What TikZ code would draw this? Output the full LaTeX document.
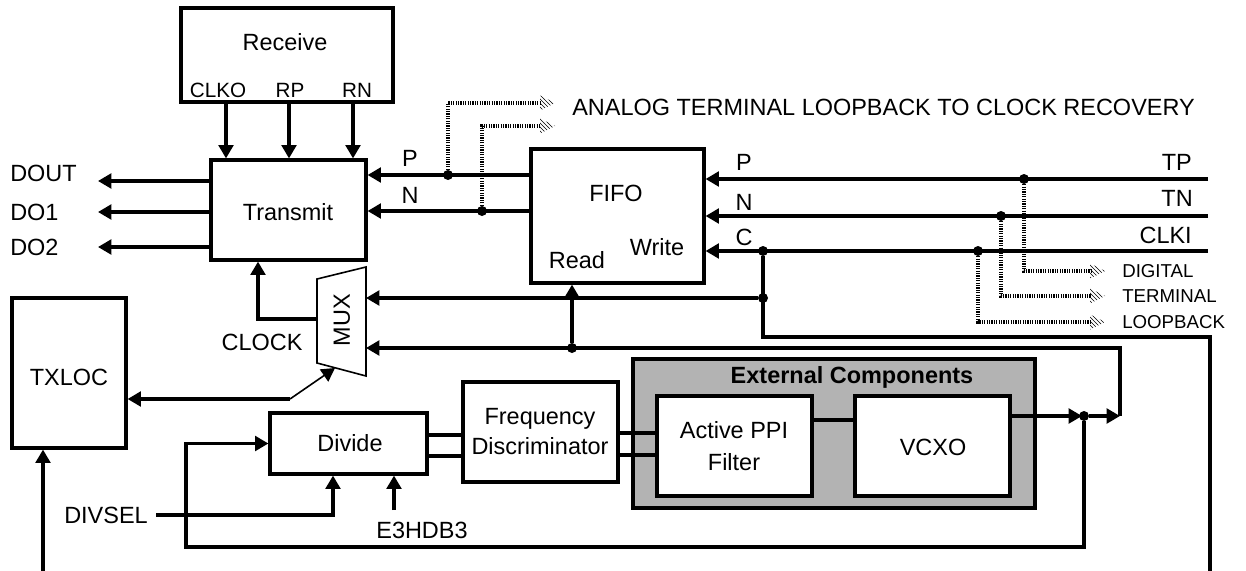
\documentclass[tikz,border=0pt]{standalone}
\usepackage{fontspec}
\setmainfont{Liberation Sans}
\usetikzlibrary{arrows.meta,patterns,calc}
\newcommand\fmain{\fontsize{17.6}{22.5}\selectfont}
\newcommand\fport{\fontsize{15.5}{17}\selectfont}
\newcommand\fsmall{\fontsize{14}{16}\selectfont}
\newcommand\hhead[2]{\path[pattern=north west lines] (#1-15,#2-7.5) -- (#1,#2) -- (#1-15,#2+7.5) -- cycle;}
\definecolor{extgray}{RGB}{179,179,179}
\begin{document}
\begin{tikzpicture}[x=0.75pt,y=-0.75pt,
  ln/.style={line width=2.4pt},
  arr/.style={line width=2.4pt,-{Triangle[length=10pt,width=11pt]}},
  box/.style={draw,line width=2.4pt,fill=white,inner sep=0pt},
  lbl/.style={font=\fmain,inner sep=0pt},
  plbl/.style={font=\fport,inner sep=0pt},
  slbl/.style={font=\fsmall,inner sep=0pt},
  jdot/.style={circle,fill,inner sep=0pt,minimum size=7.5pt},
  hatch/.style={line width=2.6pt,dash pattern=on 0.9pt off 0.9pt},
]
\useasboundingbox (0,0) rectangle (1246,571);

% blocks
\node[box,minimum width=212*0.75pt,minimum height=94*0.75pt] (recv) at (287,55) {};
\node[lbl] (recvT) at (285,42) {Receive};
\node[plbl] (clko) at (218,90) {CLKO};
\node[plbl] (rp) at (290,90) {RP};
\node[plbl] (rn) at (357,90) {RN};

\node[box,minimum width=155*0.75pt,minimum height=100*0.75pt] (trans) at (288.5,210) {};
\node[lbl] (transT) at (288,212) {Transmit};

\node[box,minimum width=173*0.75pt,minimum height=134*0.75pt] (fifo) at (617.5,216) {};
\node[lbl] (fifoT) at (616,193) {FIFO};
\node[lbl] (readT) at (577,260) {Read};
\node[lbl] (writeT) at (657,247) {Write};

\node[box,minimum width=114*0.75pt,minimum height=150*0.75pt] (txloc) at (69,373) {};
\node[lbl] (txlocT) at (69,377) {TXLOC};

\node[box,minimum width=157*0.75pt,minimum height=61*0.75pt] (div) at (348.5,443.5) {};
\node[lbl] (divT) at (350,443) {Divide};

\node[box,minimum width=155*0.75pt,minimum height=100*0.75pt] (fd) at (540.5,432) {};
\node[lbl,align=center] (fdT) at (540,432) {Frequency\\Discriminator};

\node[draw,line width=2.4pt,fill=extgray,inner sep=0pt,minimum width=402*0.75pt,minimum height=149*0.75pt] (ext) at (834,433.5) {};
\node[lbl,font=\fmain\bfseries] (extT) at (852,377) {External Components};

\node[box,minimum width=155*0.75pt,minimum height=100*0.75pt] (ppi) at (734.5,446) {};
\node[lbl,align=center,font=\fontsize{17.6}{24}\selectfont] (ppiT) at (734,446) {Active PPI\\Filter};

\node[box,minimum width=155*0.75pt,minimum height=100*0.75pt] (vcxo) at (932.5,446) {};
\node[lbl] (vcxoT) at (933,447) {VCXO};

% MUX
\draw[line width=1.2pt,fill=white] (317,279) -- (366,267) -- (366,376) -- (317,363) -- cycle;
\node[lbl,rotate=90] (muxT) at (342,320) {MUX};
\coordinate (muxR1) at (366,298);
\coordinate (muxR2) at (366,348);
\coordinate (muxL) at (317,319);
\coordinate (muxB) at (335,368);

% Receive -> Transmit
\foreach \xx in {226,289,353}{
  \draw[arr] (recv.south -| \xx,0) -- (trans.north -| \xx,0);
}

% Transmit outputs
\coordinate (doutE) at (98,181);
\coordinate (do1E) at (98,212);
\coordinate (do2E) at (98,247);
\draw[arr] (trans.west |- doutE) -- (doutE);
\draw[arr] (trans.west |- do1E) -- (do1E);
\draw[arr] (trans.west |- do2E) -- (do2E);
\node[lbl,anchor=west] (dout) at (10,173) {DOUT};
\node[lbl,anchor=west] (do1) at (10,212) {DO1};
\node[lbl,anchor=west] (do2) at (10,247) {DO2};

% FIFO -> Transmit
\draw[arr] (fifo.west |- 0,175) -- (trans.east |- 0,175);
\draw[arr] (fifo.west |- 0,211) -- (trans.east |- 0,211);
\node[lbl] (pL) at (410,158) {P};
\node[lbl] (nL) at (410,195) {N};
\node[jdot] (dP) at (448,175) {};
\node[jdot] (dN) at (482,211) {};

% analog loopback
\coordinate (aTop) at (541,103);
\coordinate (aBot) at (541,126);
\draw[hatch] (dP) |- (aTop);
\draw[hatch] (dN) |- (aBot);
\hhead{555}{103}
\hhead{555}{126}
\node[lbl,anchor=west] (analog) at (572,107) {ANALOG TERMINAL LOOPBACK TO CLOCK RECOVERY};

% FIFO inputs
\coordinate (tpE) at (1208,179);
\coordinate (tnE) at (1208,216);
\coordinate (ckE) at (1208,251);
\draw[arr] (tpE) -- (fifo.east |- tpE);
\draw[arr] (tnE) -- (fifo.east |- tnE);
\draw[arr] (ckE) -- (fifo.east |- ckE);
\node[lbl] (p2L) at (744,162) {P};
\node[lbl] (n2L) at (744,202) {N};
\node[lbl] (cL) at (744,237) {C};
\node[lbl,anchor=east] (tpL) at (1192,162) {TP};
\node[lbl,anchor=east] (tnL) at (1193,198) {TN};
\node[lbl,anchor=east] (ckL) at (1192,235) {CLKI};

% digital loopback
\node[jdot] (dTP) at (1024,179) {};
\node[jdot] (dTN) at (1001,216) {};
\node[jdot] (dCK) at (978,251) {};
\coordinate (lb1) at (1091,271);
\coordinate (lb2) at (1091,296);
\coordinate (lb3) at (1091,322);
\draw[hatch] (dTP) |- (lb1);
\draw[hatch] (dTN) |- (lb2);
\draw[hatch] (dCK) |- (lb3);
\hhead{1105}{271}
\hhead{1105}{296}
\hhead{1105}{322}
\node[slbl,anchor=west] (digL) at (1122,271) {DIGITAL};
\node[slbl,anchor=west] (terL) at (1122,296) {TERMINAL};
\node[slbl,anchor=west] (loopL) at (1122,322) {LOOPBACK};

% clock distribution
\node[jdot] (dC1) at (763,251) {};
\node[jdot] (dC2) at (763,298) {};
\node[jdot] (dR) at (572,348) {};
\node[jdot] (dV) at (1084,416) {};
\coordinate (offR) at (1210,571);
\coordinate (vTurn) at (1120,416);
\draw[ln] (dC1) -- (763,337) -| (offR);
\draw[arr] (dC2) -- (muxR1);
\draw[arr] (vTurn) |- (muxR2);
\draw[arr] (dR) -- (fifo.south -| dR);

% MUX -> Transmit, TXLOC
\draw[arr] (muxL) -| (trans.south -| 258,0);
\node[lbl] (clockL) at (262,342) {CLOCK};
\coordinate (selK) at (290,399);
\draw[ln,{Triangle[length=10pt,width=11pt]}-] (txloc.east |- selK) -- (selK);
\draw[line width=1.2pt,-{Triangle[length=10pt,width=11pt]}] (selK) -- (muxB);
\coordinate (txIn) at (43,571);
\draw[arr] (txIn) -- (txloc.south -| txIn);

% PLL chain
\draw[ln] (div.east |- 0,435) -- (fd.west |- 0,435);
\draw[ln] (div.east |- 0,456) -- (fd.west |- 0,456);
\draw[ln] (fd.east |- 0,433) -- (ppi.west |- 0,433);
\draw[ln] (fd.east |- 0,455) -- (ppi.west |- 0,455);
\draw[ln] (ppi.east |- 0,420) -- (vcxo.west |- 0,420);
\draw[arr] (vcxo.east |- dV) -- (1082,416);
\draw[arr] (dV) -- (vTurn);

% feedback
\draw[arr] (dV) |- (186,547) |- (div.west);

% DIVSEL, E3HDB3
\node[lbl,anchor=east] (divsel) at (148,515) {DIVSEL};
\draw[arr] ([xshift=6pt]divsel.east) -| (div.south -| 333,0);
\coordinate (e3) at (394,510);
\draw[arr] (e3) -- (div.south -| e3);
\node[lbl] (e3L) at (422,530) {E3HDB3};
\end{tikzpicture}
\end{document}
